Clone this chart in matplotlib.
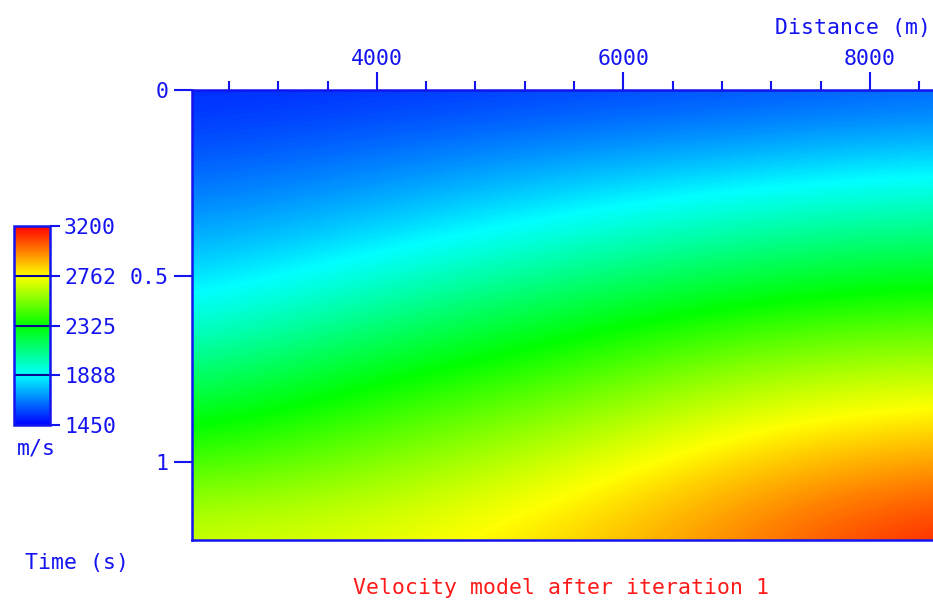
import numpy as np
import matplotlib
matplotlib.use('Agg')
import matplotlib.pyplot as plt
from matplotlib.colors import LinearSegmentedColormap
from matplotlib.ticker import MultipleLocator, FixedLocator

# ---- data ----
distance = [2500, 4000, 5500, 7000, 8500]          # m
time = [0.0, 0.2, 0.4, 0.6, 0.8, 1.0, 1.2]          # s
vel_t00 = [1515, 1528, 1550, 1575, 1610]
vel_t02 = [1605, 1665, 1735, 1790, 1840]
vel_t04 = [1740, 1830, 1955, 2070, 2140]
vel_t06 = [1900, 2080, 2240, 2370, 2430]
vel_t08 = [2165, 2350, 2470, 2650, 2715]
vel_t10 = [2430, 2545, 2690, 2850, 2930]
vel_t12 = [2690, 2730, 2830, 2985, 3160]
cbar_ticks = [1450, 1888, 2325, 2762, 3200]
cbar_labels = ['1450', '1888', '2325', '2762', '3200']
y_ticks = [0, 0.5, 1]
y_labels = ['0', '0.5', '1']

vmin, vmax = 1450, 3200
BLUE = '#1414f0'
FONT = 'DejaVu Sans Mono'
FS = 15.5

V = np.array([vel_t00, vel_t02, vel_t04, vel_t06, vel_t08, vel_t10, vel_t12], dtype=float)

cmap = LinearSegmentedColormap.from_list(
    'su', ['#0000ff', '#00ffff', '#00ff00', '#ffff00', '#ff0000'])

fig = plt.figure(figsize=(9.33, 6.01), dpi=100)
ax = fig.add_axes([192 / 933, 1 - 540 / 601, 1 - 192 / 933, 450 / 601])

dx = (distance[1] - distance[0]) / 2
dt = (time[1] - time[0]) / 2
im = ax.imshow(V, cmap=cmap, vmin=vmin, vmax=vmax, aspect='auto',
               interpolation='bicubic', origin='upper',
               extent=(distance[0] - dx, distance[-1] + dx, time[-1] + dt, time[0] - dt))
ax.set_xlim(2500, 8512)
ax.set_ylim(1.21, 0)

for s in ['left', 'top', 'bottom']:
    ax.spines[s].set_color(BLUE)
    ax.spines[s].set_linewidth(1.8)
ax.spines['right'].set_visible(False)

ax.xaxis.tick_top()
ax.xaxis.set_major_locator(MultipleLocator(2000))
ax.xaxis.set_minor_locator(MultipleLocator(400))
ax.tick_params(axis='x', which='major', length=13, width=1.5, color=BLUE,
               labelcolor=BLUE, pad=2, labelsize=FS)
ax.tick_params(axis='x', which='minor', length=6.5, width=1.5, color=BLUE)
ax.yaxis.set_major_locator(FixedLocator(y_ticks))
ax.set_yticklabels(y_labels)
ax.tick_params(axis='y', which='major', length=13, width=1.5, color=BLUE,
               labelcolor=BLUE, pad=4, labelsize=FS)
for lab in ax.get_xticklabels() + ax.get_yticklabels():
    lab.set_fontfamily(FONT)

# colorbar
cax = fig.add_axes([14 / 933, 1 - 425 / 601, 36 / 933, 199 / 601])
cb = fig.colorbar(im, cax=cax, ticks=cbar_ticks)
cb.ax.set_yticklabels(cbar_labels)
cb.outline.set_edgecolor(BLUE)
cb.outline.set_linewidth(1.8)
cb.ax.tick_params(length=7, width=1.5, color=BLUE, labelcolor=BLUE, pad=3, labelsize=FS)
for lab in cb.ax.get_yticklabels():
    lab.set_fontfamily(FONT)
for v in cbar_ticks[1:-1]:
    cb.ax.axhline(v, color='#0a0a90', lw=1.5)

fig.text(36 / 933, 1 - 449 / 601, 'm/s', color=BLUE, fontsize=FS, family=FONT,
         ha='center', va='center')
fig.text(931 / 933, 1 - 28 / 601, 'Distance (m)', color=BLUE, fontsize=FS, family=FONT,
         ha='right', va='center')
fig.text(25 / 933, 1 - 563 / 601, 'Time (s)', color=BLUE, fontsize=FS, family=FONT,
         ha='left', va='center')
fig.text(561 / 933, 1 - 588 / 601, 'Velocity model after iteration 1', color='#ff1a1a',
         fontsize=FS, family=FONT, ha='center', va='center')

fig.savefig('out.png', dpi=100)
